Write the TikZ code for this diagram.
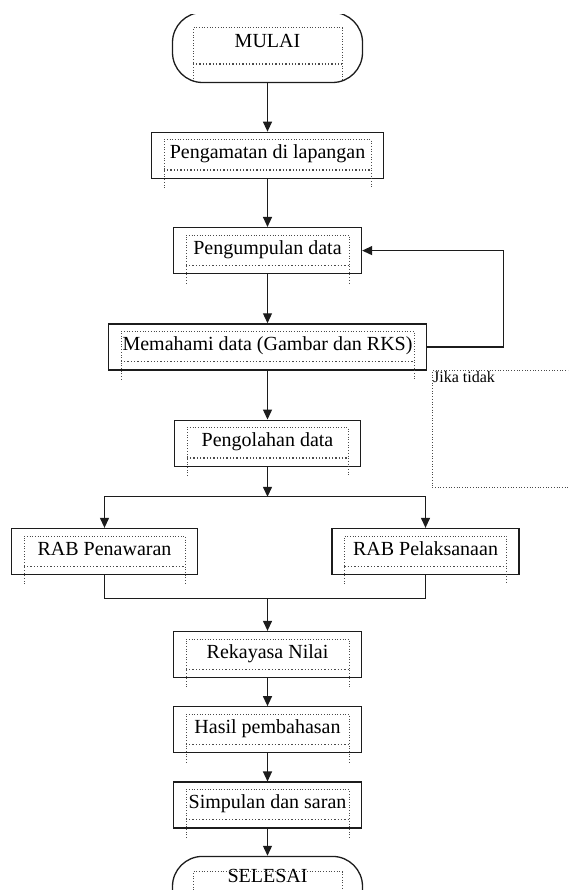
\documentclass[tikz,border=0pt]{standalone}
\usepackage{fontspec}
\setmainfont{Liberation Serif}
\usepackage{tikz}
\usetikzlibrary{arrows.meta,positioning,calc}
\definecolor{ink}{HTML}{1C1C1C}
\definecolor{dotink}{HTML}{4A4A4A}
\newcommand{\txtframe}[1]{%
  \draw[dotframe] ($(#1.south west)+(13,9)$) |- ($(#1.north east)+(-13,8)$) -- ($(#1.south east)+(-13,9)$);
  \draw[dotframe,line width=1.3pt] ($(#1.south west)+(13,-9)$) -- ($(#1.south east)+(-13,-9)$);}
\tikzset{
  >={Triangle[length=10pt,width=9pt]},
  every node/.style={font=\fontsize{20}{24}\selectfont,text=black},
  stepbox/.style={draw=ink,line width=1.3pt,minimum height=46pt,inner sep=0pt,text height=14pt,text depth=7pt},
  term/.style={stepbox,rounded corners=30pt,minimum height=70pt,minimum width=190pt,text depth=14pt},
  arrow/.style={->,line width=1.2pt,draw=ink},
  line/.style={line width=1.2pt,draw=ink},
  dotframe/.style={dotted,line width=0.7pt,draw=dotink},
  note/.style={draw=dotink,dotted,line width=0.7pt,inner sep=0pt}
}
\begin{document}
\begin{tikzpicture}[x=1pt,y=-1pt]
  \useasboundingbox (0,0) rectangle (568,890);
  \clip (0,14.5) rectangle (568,890);
  % main column
  \node[term] (mulai) at (267.5,47.5) {MULAI};
  \node[stepbox,minimum width=232pt,below=48.5pt of mulai] (pgm) {Pengamatan di lapangan};
  \node[stepbox,minimum width=188pt,below=48pt of pgm] (pgp) {Pengumpulan data};
  \node[stepbox,minimum width=318pt,below=49pt of pgp] (mhm) {Memahami data (Gambar dan RKS)};
  \node[stepbox,minimum width=186pt,below=49pt of mhm] (pgl) {Pengolahan data};
  \node[stepbox,minimum width=186pt,below=61pt of pgl,xshift=-163pt] (rabA) {RAB Penawaran};
  \node[stepbox,minimum width=187pt,below=61pt of pgl,xshift=158pt] (rabB) {RAB Pelaksanaan};
  \node[stepbox,minimum width=188pt,below=164pt of pgl] (rek) {Rekayasa Nilai};
  \node[stepbox,minimum width=188pt,below=28pt of rek] (hsl) {Hasil pembahasan};
  \node[stepbox,minimum width=188pt,below=28pt of hsl] (smp) {Simpulan dan saran};
  \node[term,text depth=31pt,below=27pt of smp] (sls) {SELESAI};

  \node[note,minimum width=150pt,minimum height=117pt,anchor=north west] (jika) at (432,370) {};
  \node[font=\fontsize{16}{19}\selectfont,anchor=north west,inner sep=1pt] (jikatxt) at (jika.north west) {Jika tidak};

  % text box frames
  \txtframe{pgm} \txtframe{pgp} \txtframe{mhm} \txtframe{pgl} \txtframe{rabA}
  \txtframe{rabB} \txtframe{rek} \txtframe{hsl} \txtframe{smp}
  \draw[dotframe] ($(mulai.south west)+(21,-2)$) |- ($(mulai.north east)+(-21,16)$) -- ($(mulai.south east)+(-21,-2)$);
  \draw[dotframe,line width=1.3pt] ($(mulai.south west)+(21,-19)$) -- ($(mulai.south east)+(-21,-19)$);
  \draw[dotframe] ($(sls.south west)+(21,-2)$) |- ($(sls.north east)+(-21,16)$) -- ($(sls.south east)+(-21,-2)$);

  % connectors
  \coordinate[below=30pt of pgl] (split);
  \coordinate[below=132pt of pgl] (merge);
  \draw[arrow] (mulai) -- (pgm);
  \draw[arrow] (pgm) -- (pgp);
  \draw[arrow] (pgp) -- (mhm);
  \draw[arrow] (mhm) -- (pgl);
  \draw[arrow] (mhm.east) -- ++(76,0) |- (pgp.east);
  \draw[arrow] (pgl) -- (split);
  \draw[arrow] (split) -| (rabA);
  \draw[arrow] (split) -| (rabB);
  \draw[line] (rabA) |- (merge) -| (rabB);
  \draw[arrow] (merge) -- (rek);
  \draw[arrow] (rek) -- (hsl);
  \draw[arrow] (hsl) -- (smp);
  \draw[arrow] (smp) -- (sls);
\end{tikzpicture}
\end{document}
